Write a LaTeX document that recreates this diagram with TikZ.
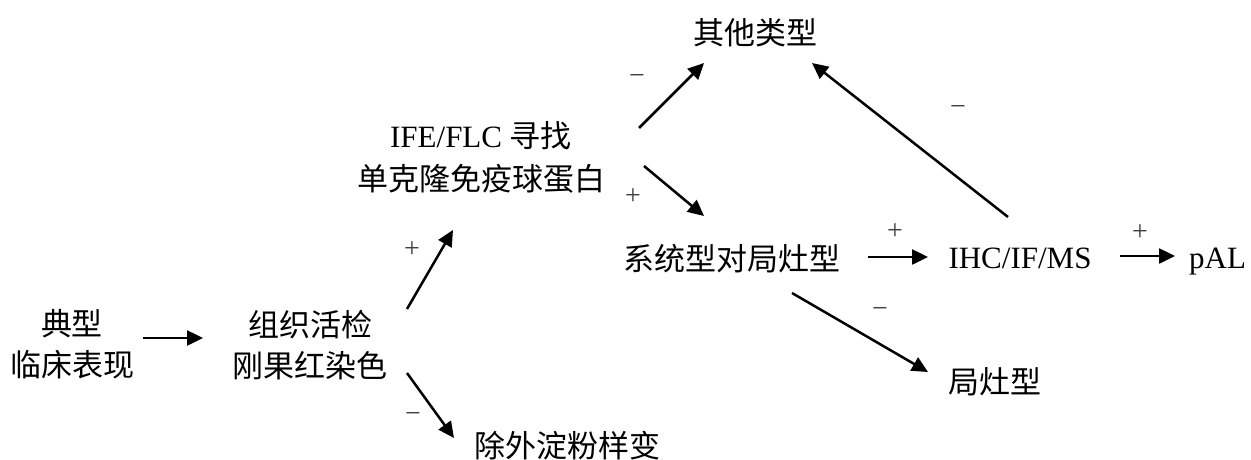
\documentclass[tikz,border=0pt]{standalone}
\usepackage{fontspec}
\setmainfont{Liberation Serif}
\newfontfamily\cjk{Noto Sans CJK SC}
\usetikzlibrary{arrows.meta}
\newcommand\zh[1]{{\cjk #1}}
\begin{document}
\begin{tikzpicture}[x=1pt,y=-1pt,
  txt/.style={font=\fontsize{31}{41}\selectfont, inner sep=0pt, align=center, anchor=base},
  sgn/.style={font=\fontsize{28}{28}\selectfont, text=black!75, inner sep=0pt},
  arr/.style={line width=2.5pt, -{Triangle[length=16pt,width=15pt]}}]
\useasboundingbox[fill=white] (0,0) rectangle (1251,459);
% nodes (base anchor = baseline of the last line)
\node[txt] (typ) at (72,376) {\zh{典型}\\\zh{临床表现}};
\node[txt] (bio) at (310,377) {\zh{组织活检}\\\zh{刚果红染色}};
\node[txt, font=\fontsize{31}{43}\selectfont] (ife) at (481,190) {IFE/FLC \zh{寻找}\\\zh{单克隆免疫球蛋白}};
\node[txt] (oth) at (755,44) {\zh{其他类型}};
\node[txt] (sys) at (732,270) {\zh{系统型对局灶型}};
\node[txt] (ihc) at (1020,268) {IHC/IF/MS};
\node[txt, anchor=base west] (pal) at (1189,268) {pAL};
\node[txt] (loc) at (995,393) {\zh{局灶型}};
\node[txt] (exc) at (567,457) {\zh{除外淀粉样变}};
% connector end points
\coordinate (a1s) at (143,338); \coordinate (a1e) at (203,338);
\coordinate (a2s) at (407,309); \coordinate (a2e) at (453,230);
\coordinate (a3s) at (407,373); \coordinate (a3e) at (454,438);
\coordinate (a4s) at (639,128); \coordinate (a4e) at (704,63);
\coordinate (a5s) at (644,166); \coordinate (a5e) at (704,216);
\coordinate (a6s) at (868,257); \coordinate (a6e) at (928,257);
\coordinate (a7s) at (1120,256); \coordinate (a7e) at (1175,256);
\coordinate (a8s) at (792,293); \coordinate (a8e) at (928,372);
\coordinate (a9s) at (1008,217); \coordinate (a9e) at (812,63);
% connectors
\draw[arr] (a1s) -- (a1e);
\draw[arr] (a2s) -- (a2e);
\draw[arr] (a3s) -- (a3e);
\draw[arr] (a4s) -- (a4e);
\draw[arr] (a5s) -- (a5e);
\draw[arr] (a6s) -- (a6e);
\draw[arr] (a7s) -- (a7e);
\draw[arr] (a8s) -- (a8e);
\draw[arr] (a9s) -- (a9e);
% signs
\node[sgn] (s2) at (412,250) {+};
\node[sgn] (s3) at (413,417) {−};
\node[sgn] (s4) at (637,79) {−};
\node[sgn] (s5) at (633,197) {+};
\node[sgn] (s6) at (895,232) {+};
\node[sgn] (s7) at (1140,233) {+};
\node[sgn] (s8) at (880,312) {−};
\node[sgn] (s9) at (958,110) {−};
\end{tikzpicture}
\end{document}
